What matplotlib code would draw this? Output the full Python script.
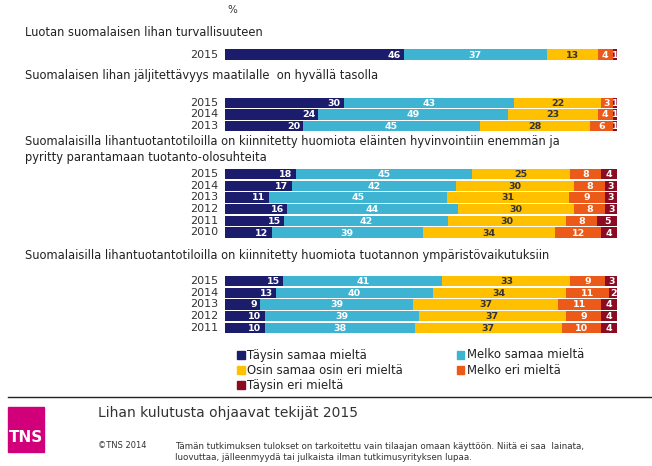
import matplotlib
matplotlib.use("Agg")
import matplotlib.pyplot as plt
from matplotlib.patches import Rectangle

W, H = 652, 466

categories = ["Täysin samaa mieltä", "Melko samaa mieltä", "Osin samaa osin eri mieltä",
              "Melko eri mieltä", "Täysin eri mieltä"]
colors = ["#1b1c6c", "#3eb3d2", "#ffc000", "#ec5a1a", "#8b0c22"]
label_colors = ["white", "white", "#333333", "white", "white"]

titles = [
    "Luotan suomalaisen lihan turvallisuuteen",
    "Suomalaisen lihan jäljitettävyys maatilalle  on hyvällä tasolla",
    "Suomalaisilla lihantuotantotiloilla on kiinnitetty huomiota eläinten hyvinvointiin enemmän ja\n"
    "pyritty parantamaan tuotanto-olosuhteita",
    "Suomalaisilla lihantuotantotiloilla on kiinnitetty huomiota tuotannon ympäristövaikutuksiin",
]

years_1 = ["2015"]
values_1 = [[46, 37, 13, 4, 1]]

years_2 = ["2015", "2014", "2013"]
values_2 = [[30, 43, 22, 3, 1],
            [24, 49, 23, 4, 1],
            [20, 45, 28, 6, 1]]

years_3 = ["2015", "2014", "2013", "2012", "2011", "2010"]
values_3 = [[18, 45, 25, 8, 4],
            [17, 42, 30, 8, 3],
            [11, 45, 31, 9, 3],
            [16, 44, 30, 8, 3],
            [15, 42, 30, 8, 5],
            [12, 39, 34, 12, 4]]

years_4 = ["2015", "2014", "2013", "2012", "2011"]
values_4 = [[15, 41, 33, 9, 3],
            [13, 40, 34, 11, 2],
            [9, 39, 37, 11, 4],
            [10, 39, 37, 9, 4],
            [10, 38, 37, 10, 4]]

groups = [(years_1, values_1), (years_2, values_2), (years_3, values_3), (years_4, values_4)]

# layout in pixels
title_y = [32, 75, 149.5, 256]
first_bar_y = [54.5, 102.7, 174, 281]
pitch = 11.7
bar_h = 10.3
x0, x1 = 225, 617

fig = plt.figure(figsize=(W / 100, H / 100), dpi=100)
ax = fig.add_axes([x0 / W, 0, (x1 - x0) / W, 1])
ax.set_xlim(0, 100)
ax.set_ylim(H, 0)
ax.axis("off")


def ftext(x, y, s, **kw):
    fig.text(x / W, 1 - y / H, s, **kw)


ftext(227, 10, "%", fontsize=7.5, color="#333333", ha="left", va="center")

for g, (years, values) in enumerate(groups):
    ftext(25, title_y[g], titles[g], fontsize=8.3, color="#222222", ha="left",
          va="center", linespacing=1.25)
    for i, (yr, row) in enumerate(zip(years, values)):
        y = first_bar_y[g] + i * pitch
        total = sum(row)
        left = 0
        ftext(218, y, yr, fontsize=8, color="#333333", ha="right", va="center")
        for k, v in enumerate(row):
            w = v / total * 100
            ax.barh(y, w, left=left, height=bar_h, color=colors[k], linewidth=0)
            if k == 0:
                ax.text(left + w - 0.8, y + 0.5, str(v), ha="right", va="center",
                        fontsize=6.8, fontweight="bold", color=label_colors[k])
            else:
                ax.text(left + w / 2, y + 0.5, str(v), ha="center", va="center",
                        fontsize=6.8, fontweight="bold", color=label_colors[k])
            left += w

# legend
leg_pos = [(237, 355), (457, 355), (237, 370), (457, 370), (237, 385)]
for k, (lx, ly) in enumerate(leg_pos):
    fig.patches.append(Rectangle(((lx) / W, 1 - (ly + 3.5) / H), 7.5 / W, 7.5 / H,
                                 transform=fig.transFigure, color=colors[k]))
    ftext(lx + 10, ly, categories[k], fontsize=8.4, color="#222222", ha="left", va="center")

# footer
fig.add_artist(plt.Line2D([8 / W, 1], [1 - 397 / H, 1 - 397 / H], color="#222222",
                          linewidth=1, transform=fig.transFigure))
fig.patches.append(Rectangle((8 / W, 1 - 452 / H), 36 / W, 45 / H,
                             transform=fig.transFigure, color="#d1007a"))
ftext(26, 437, "TNS", fontsize=11, fontweight="bold", color="white", ha="center",
      va="center", family="Liberation Sans Narrow")
ftext(98, 413, "Lihan kulutusta ohjaavat tekijät 2015", fontsize=10, color="#333333",
      ha="left", va="center")
ftext(98, 446, "©TNS 2014", fontsize=6, color="#333333", ha="left", va="center")
ftext(175, 452, "Tämän tutkimuksen tulokset on tarkoitettu vain tilaajan omaan käyttöön. "
      "Niitä ei saa  lainata,\nluovuttaa, jälleenmyydä tai julkaista ilman "
      "tutkimusyrityksen lupaa.", fontsize=6.3, color="#333333", ha="left",
      va="center", linespacing=1.25)

fig.savefig("out.png", dpi=100)
